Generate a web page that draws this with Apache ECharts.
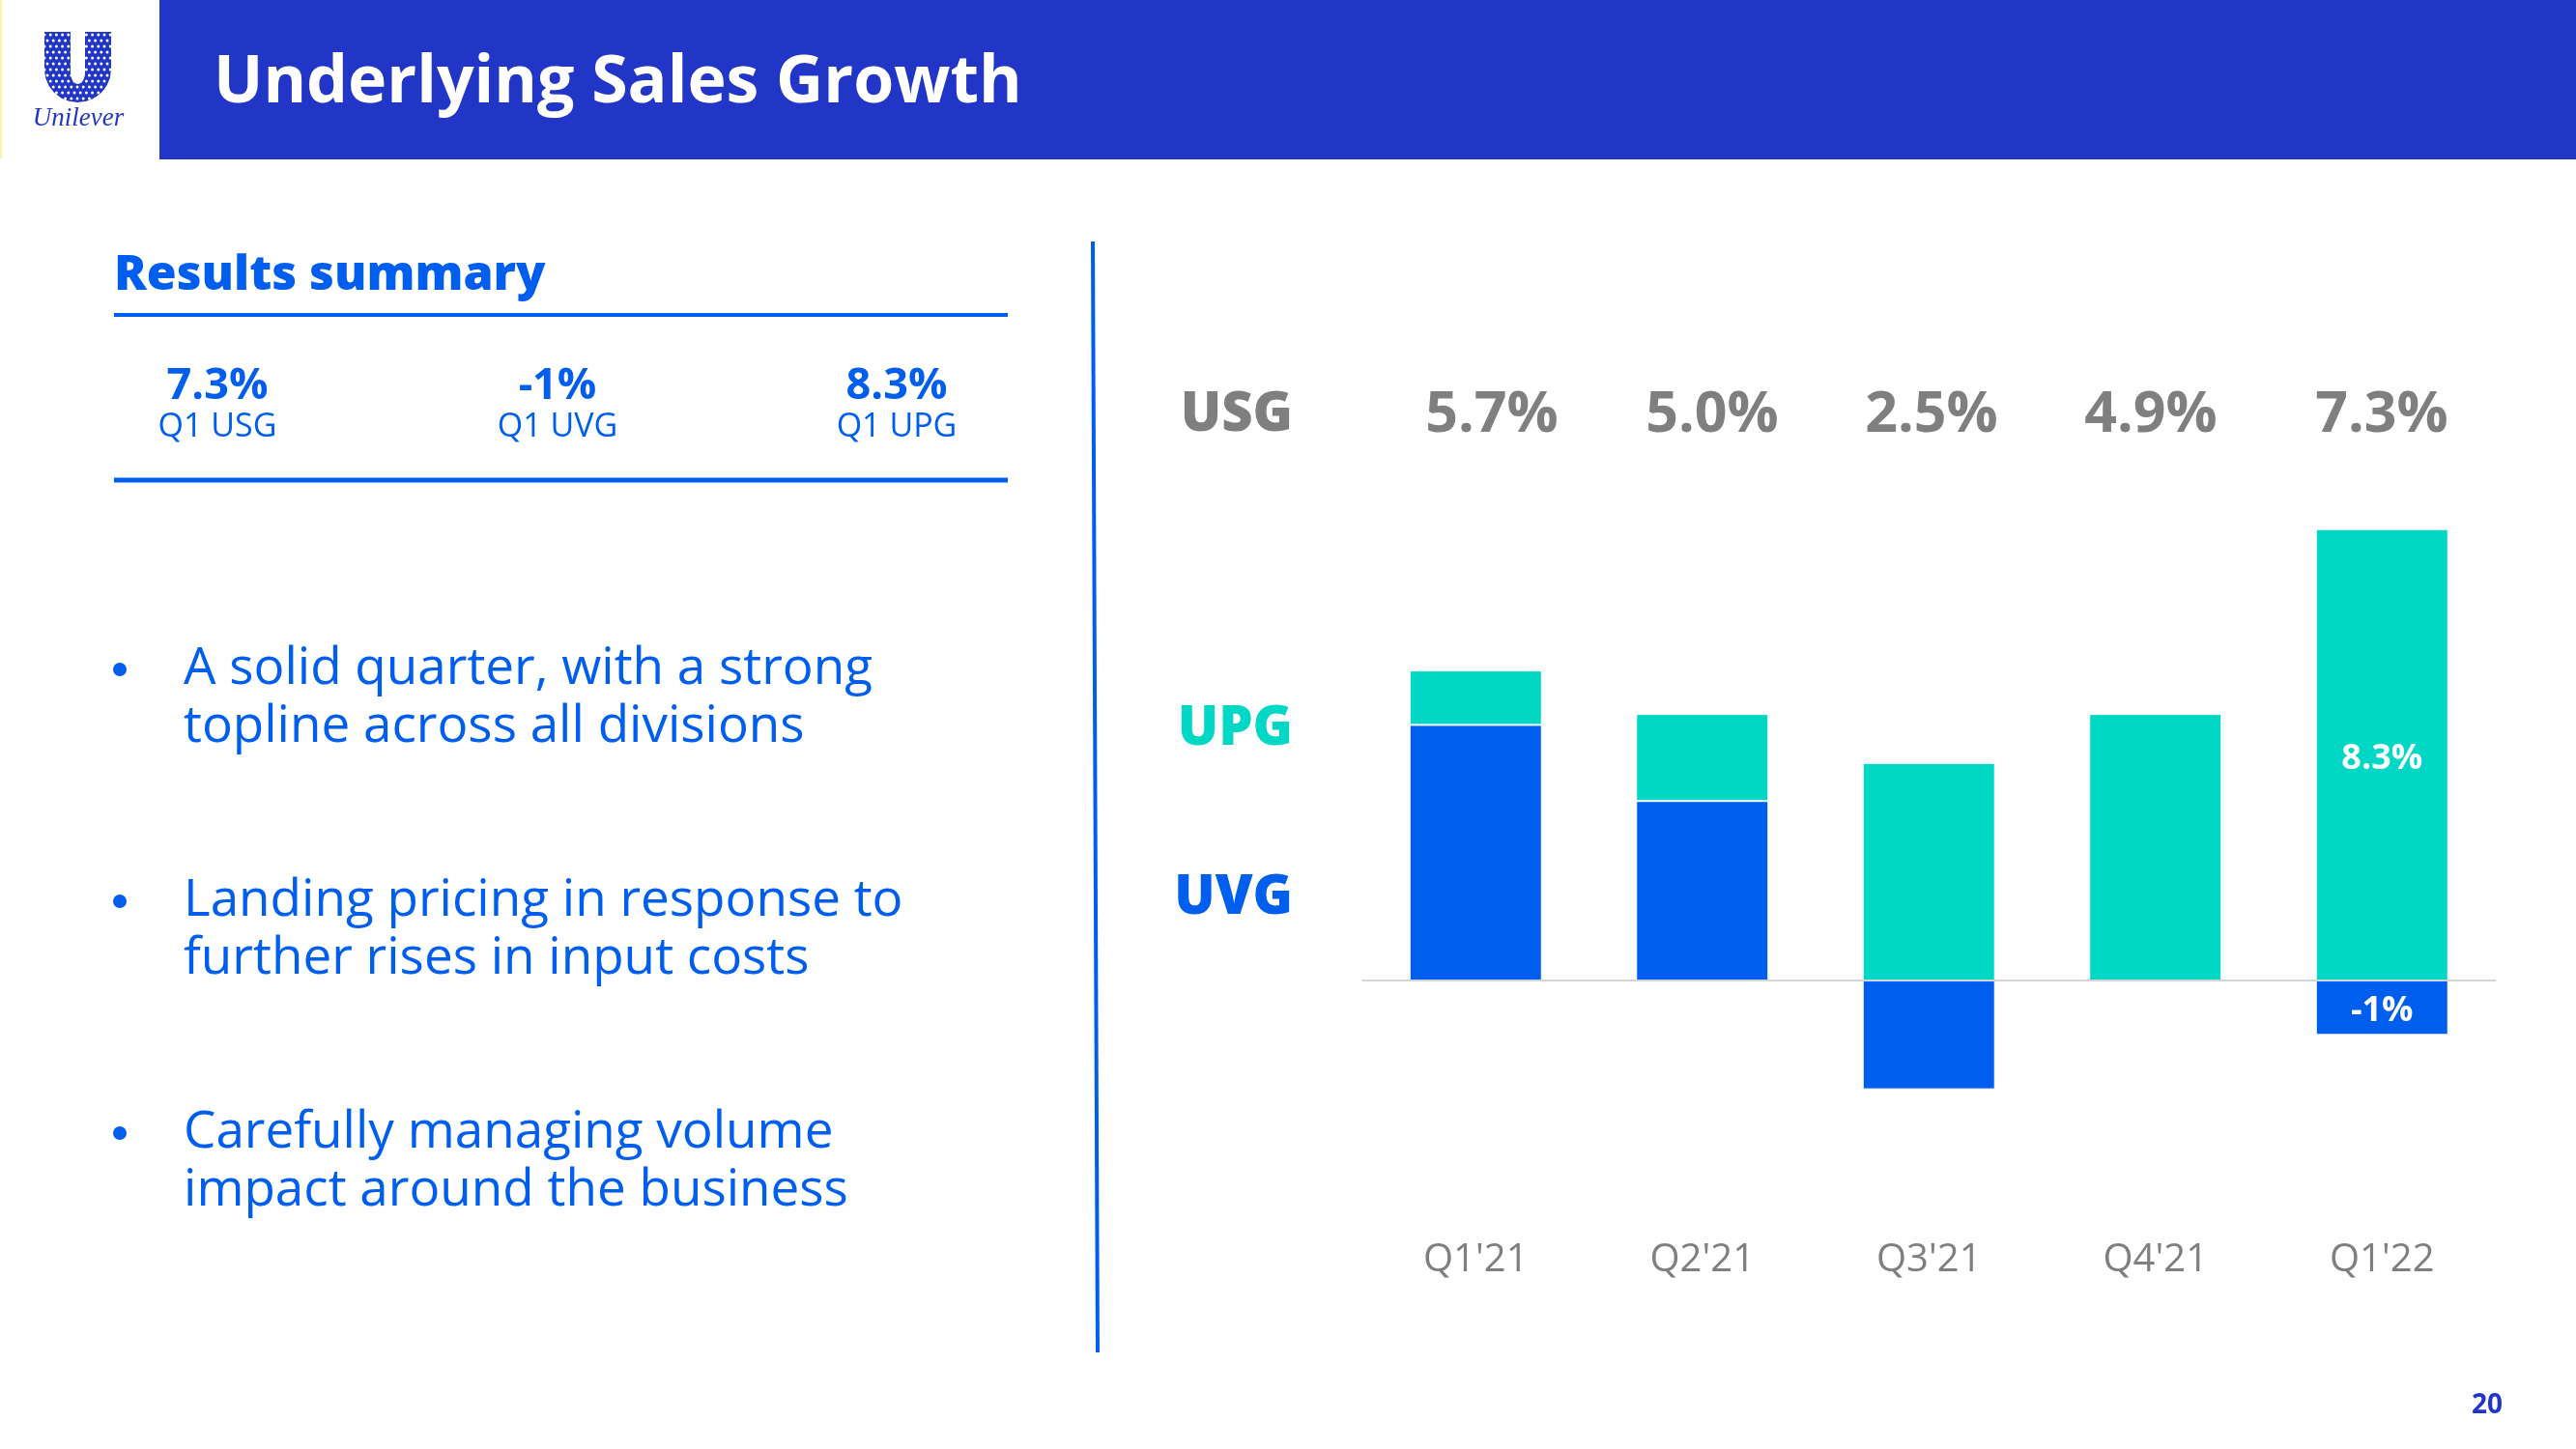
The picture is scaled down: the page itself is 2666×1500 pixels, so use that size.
<!DOCTYPE html>
<html><head><meta charset="utf-8">
<style>html,body{margin:0;padding:0;background:#fff}#c{width:2666px;height:1500px}</style>
<script src="https://cdn.jsdelivr.net/npm/echarts@6/dist/echarts.min.js"></script>
</head><body><div id="c"></div>
<script>
const categories = ["Q1'21","Q2'21","Q3'21","Q4'21","Q1'22"];
const uvgValues = [4.7,3.3,-2.0,null,-1.0];
const upgValues = [1.0,1.6,4.0,4.9,8.3];
const usgLabels = ["5.7%","5.0%","2.5%","4.9%","7.3%"];
const summaryValues = ["7.3%","-1%","8.3%"];
const summaryNames = ["Q1 USG","Q1 UVG","Q1 UPG"];
const bullets = [["A solid quarter, with a strong","topline across all divisions"],["Landing pricing in response to","further rises in input costs"],["Carefully managing volume","impact around the business"]];

const BLUE='#005EEF', TEAL='#00D7C4', NAVY='#2136C6', GREY='#7F7F7F';
const F='"Open Sans", "Noto Sans", sans-serif';
const txt=(x,y,text,size,color,weight,align,font)=>({type:'text',x,y,silent:true,style:{text,fontSize:size,fill:color,fontWeight:weight||'normal',align:align||'left',verticalAlign:'middle',fontFamily:font||F}});
const g=[];
g.push({type:'rect',shape:{x:0,y:0,width:2,height:164},style:{fill:'#F7F3A8'}});
g.push({type:'rect',shape:{x:165,y:0,width:2501,height:165},style:{fill:NAVY}});
const uPts=[[46,33],[73,33],[73,75]];
for(let a=180;a>=0;a-=15){uPts.push([80.5+7.5*Math.cos(a*Math.PI/180),75+12*Math.sin(a*Math.PI/180)]);}
uPts.push([88,33],[115,33],[115,72]);
for(let a=0;a<=180;a+=15){uPts.push([80.5+34.5*Math.cos(a*Math.PI/180),72+34*Math.sin(a*Math.PI/180)]);}
g.push({type:'polygon',shape:{points:uPts},style:{fill:NAVY}});
for(let r=0;r<12;r++)for(let k=0;k<12;k++){g.push({type:'circle',shape:{cx:46+k*6.2+(r%2)*3,cy:36+r*6,r:1.5},style:{fill:'#fff'}});}
g.push(txt(81,123,'Unilever',27,NAVY,'normal','center','"Liberation Serif"'));
g[g.length-1].style.fontStyle='italic';
g.push(txt(221,87,'Underlying Sales Growth',68,'#fff','bold'));
g.push(txt(118,286,'Results summary',50,BLUE,'800'));
g.push({type:'line',shape:{x1:118,y1:326,x2:1043,y2:326},style:{stroke:BLUE,lineWidth:4}});
g.push({type:'line',shape:{x1:118,y1:497,x2:1043,y2:497},style:{stroke:BLUE,lineWidth:5}});
[225,577,928].forEach((x,i)=>{g.push(txt(x,400,summaryValues[i],45,BLUE,'bold','center'));g.push(txt(x,442,summaryNames[i],34,BLUE,'normal','center'));});
[[690,750],[930,990],[1170,1230]].forEach((ys,i)=>{
  g.push({type:'circle',shape:{cx:124,cy:ys[0]+3,r:7},style:{fill:BLUE}});
  ys.forEach((y,j)=>g.push(txt(190,y+3,bullets[i][j],53,BLUE,'normal')));
});
g.push({type:'line',shape:{x1:1131,y1:250,x2:1136,y2:1400},style:{stroke:BLUE,lineWidth:4}});
g.push(txt(1338,430,'USG',56,GREY,'800','right'));
g.push(txt(1338,755,'UPG',56,TEAL,'800','right'));
g.push(txt(1338,930,'UVG',56,BLUE,'800','right'));
[1544,1772,1999,2226,2465].forEach((x,i)=>g.push(txt(x,430,usgLabels[i],59,GREY,'bold','center')));
g.push(txt(2574,1455,'20',28,NAVY,'bold','center'));

const lastLabel={show:true,position:'inside',offset:[0,4],color:'#fff',fontSize:36,fontWeight:'bold',fontFamily:F,
  formatter:p=>p.dataIndex===4?p.value+'%':''};
const chart=echarts.init(document.getElementById('c'),null,{renderer:'canvas'});
chart.setOption({animation:false,graphic:{elements:g},
  grid:{left:1410,top:452,width:1172.5,height:816.4,containLabel:false,outerBoundsMode:'none'},
  xAxis:[
    {type:'category',data:categories,z:5,
     axisLine:{show:true,onZero:true,lineStyle:{color:'#D4D4D4',width:2}},axisTick:{show:false},axisLabel:{show:false}},
    {type:'category',data:categories,position:'bottom',
     axisLine:{show:false,onZero:false},axisTick:{show:false},
     axisLabel:{show:true,margin:16,fontSize:40,color:GREY,fontFamily:F}}
  ],
  yAxis:{type:'value',min:-4.5,max:10,show:false,splitLine:{show:false}},
  series:[
    {name:'UVG',type:'bar',stack:'t',barWidth:137,data:uvgValues,itemStyle:{color:BLUE,borderColor:'#fff',borderWidth:1},label:lastLabel},
    {name:'UPG',type:'bar',stack:'t',barWidth:137,data:upgValues,itemStyle:{color:TEAL,borderColor:'#fff',borderWidth:1},label:lastLabel}
  ]});
</script></body></html>
